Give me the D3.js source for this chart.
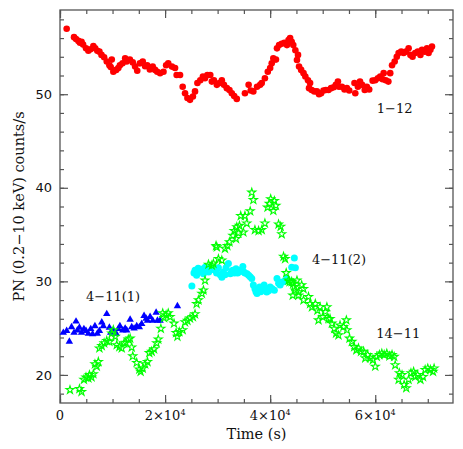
<!DOCTYPE html>
<html>
<head>
<meta charset="utf-8">
<script src="https://cdn.jsdelivr.net/npm/d3@7"></script>
<style>
  body { margin: 0; background: #fff; }
</style>
</head>
<body>
<div id="chart"></div>
<script>
// light curves: [time (units of 1000 s), PN rate (counts/s)]
const obs1_12 = [[1.27,57.0],[2.67,56.1],[3.05,55.9],[3.5,55.7],[3.8,55.5],[4.1,55.6],[4.4,55.3],[4.95,54.9],[5.4,54.65],[5.8,54.8],[6.35,55.15],[6.7,54.9],[7.1,54.65],[7.5,54.55],[7.9,54.2],[8.4,53.95],[8.9,53.5],[9.4,53.1],[9.85,53.7],[9.65,52.9],[10.15,52.4],[10.7,52.6],[11.1,52.8],[11.4,53.1],[11.9,53.3],[12.4,53.85],[12.7,53.5],[13.3,53.7],[13.85,53.4],[14.3,52.95],[14.7,52.5],[15.2,53.3],[15.75,53.5],[16.2,53.0],[16.6,53.1],[17.1,52.65],[17.65,52.95],[18.1,52.6],[18.5,52.4],[19.05,52.25],[19.7,52.4],[20.2,53.1],[20.6,53.3],[21.3,52.95],[21.9,52.8],[22.2,52.05],[22.85,52.05],[23.35,50.8],[23.8,50.1],[24.25,49.6],[24.75,49.4],[25.3,49.75],[25.7,50.3],[26.15,51.2],[26.7,51.5],[27.2,51.9],[27.6,51.7],[28.05,52.05],[28.6,52.05],[28.9,51.35],[29.3,51.5],[29.85,51.0],[30.35,51.2],[30.8,51.5],[31.2,51.0],[31.75,50.65],[32.25,50.45],[32.7,50.1],[33.15,49.8],[33.65,49.5],[35.2,50.1],[35.9,51.0],[36.3,50.4],[36.8,50.3],[37.5,50.8],[38.1,51.0],[38.4,51.2],[39.0,51.7],[39.55,52.4],[40.0,52.8],[40.3,53.3],[40.6,53.85],[41.1,53.7],[41.3,54.9],[41.7,55.25],[42.2,55.4],[42.7,55.5],[43.2,55.25],[43.5,55.8],[43.8,56.0],[44.1,55.6],[44.4,55.25],[44.8,54.7],[45.1,53.65],[45.3,54.2],[45.5,52.95],[45.9,52.6],[46.35,52.25],[46.7,51.9],[47.2,51.5],[47.6,51.2],[47.4,50.65],[47.9,50.45],[48.4,50.3],[48.9,50.3],[49.3,50.0],[49.7,50.1],[50.15,50.4],[50.6,50.45],[51.1,50.45],[51.6,50.65],[52.1,50.75],[52.5,51.0],[52.9,51.35],[53.1,50.8],[53.65,50.8],[54.15,50.5],[54.6,50.65],[55.05,50.4],[56.05,51.2],[56.2,50.1],[56.7,50.8],[57.1,51.35],[57.5,51.0],[58.0,50.45],[58.4,50.8],[58.85,50.5],[59.5,51.45],[60.0,51.5],[60.5,51.7],[60.95,51.9],[61.4,51.6],[61.6,52.25],[62.0,51.5],[62.5,51.35],[62.85,52.25],[63.2,53.1],[63.7,53.5],[64.1,54.0],[64.45,54.4],[64.95,54.55],[65.4,54.4],[65.85,54.55],[66.35,54.9],[66.7,54.2],[67.1,54.0],[67.6,54.4],[68.1,54.55],[68.6,54.2],[68.9,54.75],[69.4,54.55],[69.85,54.9],[70.15,54.4],[70.5,54.75],[70.8,55.1]];

const obs4_11a = [[0.63,24.6],[1.27,24.8],[1.78,23.65],[2.2,25.2],[2.67,24.6],[3.05,25.8],[3.3,24.85],[3.7,25.15],[4.1,24.6],[4.55,25.0],[4.95,24.8],[5.4,24.5],[5.85,25.0],[6.2,24.45],[6.65,25.3],[7.1,24.5],[7.5,24.8],[7.95,25.7],[8.25,25.3],[8.9,26.6],[9.4,25.15],[9.65,24.6],[10.15,24.85],[10.7,24.5],[11.1,25.0],[11.4,25.3],[11.95,24.85],[12.4,25.05],[12.7,24.85],[13.35,26.0],[13.65,25.2],[14.1,25.05],[14.6,25.3],[15.1,25.2],[15.55,25.55],[16.0,26.4],[16.4,26.1],[16.65,25.9],[17.15,26.3],[17.65,25.9],[18.3,26.75],[18.55,25.9],[19.05,25.9],[22.35,27.45]];

const obs4_11b = [[25.1,29.5],[25.5,30.9],[25.7,31.2],[26.0,30.65],[26.3,31.4],[26.5,31.0],[26.9,31.3],[27.3,30.8],[27.6,31.5],[27.9,31.2],[28.3,31.0],[28.6,31.5],[29.0,31.3],[29.5,31.2],[29.8,30.9],[30.15,31.45],[30.5,30.7],[30.8,30.45],[31.1,31.0],[31.4,30.7],[31.6,31.45],[32.05,31.9],[32.4,30.8],[32.7,31.1],[32.9,31.2],[33.2,30.9],[33.5,31.35],[33.8,30.9],[34.0,31.0],[34.3,31.2],[34.8,31.6],[35.0,31.0],[35.2,30.9],[35.6,30.8],[35.9,30.65],[36.2,30.5],[36.5,30.3],[36.8,29.6],[37.1,29.2],[37.3,28.9],[37.5,28.7],[37.8,29.1],[38.0,29.4],[38.2,28.9],[38.4,29.05],[38.6,29.3],[38.85,29.6],[39.1,29.2],[39.35,28.85],[39.7,29.0],[40.0,29.4],[40.4,29.2],[40.8,29.05],[41.3,30.3],[41.6,29.8],[41.9,29.6],[42.2,29.9],[42.55,29.95],[42.9,30.1],[43.2,30.3],[44.1,31.5],[44.6,32.5],[44.8,31.45]];

const obs14_11 = [[1.9,18.4],[3.7,18.5],[4.1,18.2],[4.55,19.5],[4.95,19.75],[5.4,19.65],[5.6,20.0],[6.0,19.75],[6.35,20.1],[6.65,21.15],[7.0,20.9],[7.3,21.4],[7.5,22.85],[7.95,23.1],[8.4,23.4],[8.9,23.65],[9.4,23.55],[9.85,24.45],[10.15,24.8],[10.5,24.1],[10.8,23.2],[11.3,23.0],[11.75,22.85],[12.2,23.4],[12.55,23.45],[13.0,23.8],[13.35,23.9],[13.65,22.95],[13.85,22.0],[14.6,21.3],[15.1,20.6],[15.35,20.35],[15.75,20.7],[16.2,21.15],[16.65,21.4],[17.0,22.35],[17.45,22.5],[17.9,22.75],[18.4,23.4],[18.7,23.8],[19.2,24.95],[19.55,26.6],[19.8,26.1],[20.2,26.4],[20.6,26.6],[20.95,26.2],[21.7,25.5],[22.1,24.5],[22.35,24.1],[22.7,24.6],[23.35,24.8],[23.8,25.65],[24.25,25.8],[24.75,26.05],[25.3,26.2],[25.7,26.5],[26.0,27.6],[26.35,28.0],[27.0,28.7],[27.3,29.05],[27.6,30.1],[28.25,31.8],[28.9,31.7],[29.2,31.9],[29.7,33.8],[29.85,33.65],[30.15,32.4],[30.8,32.25],[31.4,33.5],[31.85,33.8],[32.25,34.2],[32.9,34.9],[33.15,35.4],[33.5,34.55],[33.65,35.8],[33.95,35.15],[34.15,35.95],[34.4,37.0],[34.9,35.25],[35.2,37.0],[35.55,36.2],[36.2,37.5],[36.5,39.5],[36.8,38.7],[37.1,35.5],[37.8,35.4],[38.4,35.5],[39.0,36.2],[39.5,37.9],[39.85,38.3],[40.1,38.8],[40.6,37.55],[40.8,38.6],[41.1,38.1],[41.6,36.1],[42.0,35.85],[42.2,35.05],[42.55,32.65],[42.85,32.4],[43.05,30.9],[43.5,30.1],[43.7,29.95],[44.1,29.95],[44.3,28.5],[44.4,29.75],[44.6,29.4],[44.75,29.05],[45.1,30.1],[45.4,28.5],[45.4,28.85],[46.0,29.6],[46.35,29.2],[46.35,28.0],[47.3,28.35],[47.6,27.6],[47.95,27.25],[48.6,27.6],[49.0,26.9],[49.2,25.85],[49.5,27.25],[50.0,26.2],[50.5,26.75],[50.8,27.25],[51.1,26.0],[51.4,26.0],[51.75,25.5],[52.2,24.95],[52.55,24.45],[53.0,24.25],[53.3,25.3],[53.95,25.15],[54.5,25.85],[54.6,24.8],[55.1,23.9],[55.55,23.55],[56.0,23.0],[56.4,22.65],[56.8,22.85],[57.3,22.5],[57.8,22.5],[58.1,21.8],[58.55,22.15],[59.05,21.8],[59.55,21.6],[60.0,20.9],[60.3,21.95],[60.8,22.15],[61.25,22.3],[61.7,22.15],[62.2,22.3],[62.7,22.0],[63.2,22.15],[63.6,21.95],[63.8,21.05],[64.45,19.5],[64.6,20.2],[65.1,20.0],[65.5,18.95],[65.9,18.6],[66.35,19.5],[66.8,20.2],[67.3,20.35],[67.6,19.8],[68.05,20.0],[68.6,19.5],[69.1,19.8],[69.5,20.55],[70.0,20.7],[70.5,20.55],[71.0,20.35],[71.2,20.7]];

const xMajor = [0, 20000, 40000, 60000];
const yMajor = [20, 30, 40, 50];
const xTickMantissa = ["0", "2", "4", "6"];   // shown as m×10^4
// annotation text with its baseline-left anchor in data coords
const notes = [
  {text: "1\u221212",    t: 60.3,  v: 48.0},
  {text: "4\u221211(1)", t: 4.95,  v: 27.9},
  {text: "4\u221211(2)", t: 47.95, v: 31.9},
  {text: "14\u221211",   t: 60.2,  v: 23.9}
];

const width = 463, height = 449;
const x = d3.scaleLinear().domain([0, 74800]).range([60, 453]);
const y = d3.scaleLinear().domain([17, 59]).range([403, 10]);

const svg = d3.select("#chart").append("svg")
    .attr("width", width)
    .attr("height", height);

const axisColor = "#555";
const xMinor = d3.range(0, 75000, 5000);
const yMinor = d3.range(18, 59, 2);

// ticks on all four sides, pointing inward (minor 4px, major 8px)
const sides = [
  [d3.axisBottom, x, `translate(0,${y.range()[0]})`, xMinor, xMajor],
  [d3.axisTop,    x, `translate(0,${y.range()[1]})`, xMinor, xMajor],
  [d3.axisLeft,   y, `translate(${x.range()[0]},0)`, yMinor, yMajor],
  [d3.axisRight,  y, `translate(${x.range()[1]},0)`, yMinor, yMajor]
];
sides.forEach(([axisFn, scale, tr, minor, major]) => {
  [[minor, 4], [major, 8]].forEach(([values, size]) => {
    const g = svg.append("g")
        .attr("transform", tr)
        .call(axisFn(scale).tickValues(values).tickSizeInner(-size).tickSizeOuter(0).tickFormat(""));
    g.select(".domain").remove();
    g.selectAll("line").attr("stroke", axisColor).attr("stroke-width", 1.2);
  });
});

// frame
svg.append("rect")
    .attr("x", x.range()[0])
    .attr("y", y.range()[1])
    .attr("width", x.range()[1] - x.range()[0])
    .attr("height", y.range()[0] - y.range()[1])
    .attr("fill", "none")
    .attr("stroke", axisColor)
    .attr("stroke-width", 1.3);

// y tick labels
svg.append("g")
  .selectAll("text")
  .data(yMajor)
  .join("text")
    .attr("x", x.range()[0] - 8)
    .attr("y", d => y(d))
    .attr("dy", "0.36em")
    .attr("text-anchor", "end")
    .attr("font-family", "DejaVu Sans, sans-serif")
    .attr("font-size", 13)
    .attr("fill", "#111")
    .text(d => d);

// x tick labels, m×10^4
svg.append("g")
    .attr("font-family", "DejaVu Serif, serif")
    .attr("font-size", 13)
    .attr("fill", "#111")
  .selectAll("text")
  .data(xMajor)
  .join("text")
    .attr("x", d => x(d))
    .attr("y", 420)
    .attr("text-anchor", "middle")
    .each(function(d, i) {
      const t = d3.select(this);
      if (d === 0) { t.text("0"); return; }
      t.append("tspan").text(xTickMantissa[i] + "\u00d710");
      t.append("tspan").attr("font-size", 8).attr("dy", -5).text("4");
    });

// axis titles
svg.append("text")
    .attr("x", (x.range()[0] + x.range()[1]) / 2)
    .attr("y", 439)
    .attr("text-anchor", "middle")
    .attr("font-family", "DejaVu Serif, serif")
    .attr("font-size", 14.5)
    .attr("fill", "#111")
    .text("Time (s)");

svg.append("text")
    .attr("transform", `translate(24,${(y.range()[0] + y.range()[1]) / 2}) rotate(-90)`)
    .attr("text-anchor", "middle")
    .attr("font-family", "DejaVu Serif, serif")
    .attr("font-size", 14.5)
    .attr("fill", "#111")
    .text("PN (0.2\u221210 keV) counts/s");

// data
const px = d => x(d[0] * 1000), py = d => y(d[1]);

svg.append("g")
    .attr("fill", "#ff0000")
  .selectAll("circle")
  .data(obs1_12)
  .join("circle")
    .attr("cx", px)
    .attr("cy", py)
    .attr("r", 3.3);

svg.append("g")
    .attr("fill", "#0000ff")
  .selectAll("path")
  .data(obs4_11a)
  .join("path")
    .attr("transform", d => `translate(${px(d)},${py(d) + 0.8})`)
    .attr("d", d3.symbol(d3.symbolTriangle, 24));

svg.append("g")
    .attr("fill", "#00ffff")
  .selectAll("circle")
  .data(obs4_11b)
  .join("circle")
    .attr("cx", px)
    .attr("cy", py)
    .attr("r", 3.5);

svg.append("g")
    .attr("fill", "none")
    .attr("stroke", "#00ff00")
    .attr("stroke-width", 1.1)
  .selectAll("path")
  .data(obs14_11)
  .join("path")
    .attr("transform", d => `translate(${px(d)},${py(d)})`)
    .attr("d", d3.symbol(d3.symbolStar, 20));

// series labels
svg.append("g")
    .attr("font-family", "DejaVu Serif, serif")
    .attr("font-size", 13)
    .attr("fill", "#111")
  .selectAll("text")
  .data(notes)
  .join("text")
    .attr("x", d => x(d.t * 1000))
    .attr("y", d => y(d.v))
    .text(d => d.text);
</script>
</body>
</html>
